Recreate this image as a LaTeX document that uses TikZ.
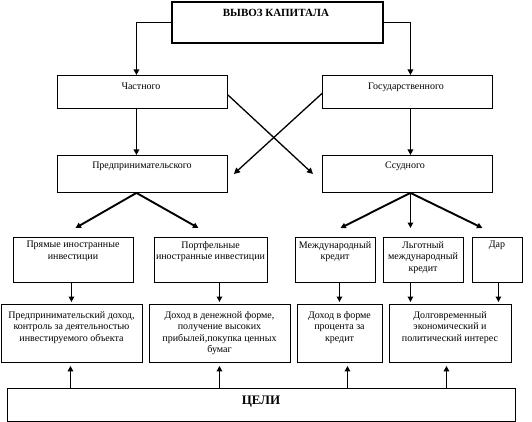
\documentclass[tikz,border=0pt]{standalone}
\usepackage{fontspec}
\setmainfont{Liberation Serif}
\usetikzlibrary{arrows.meta,calc}
\begin{document}
\begin{tikzpicture}[x=1pt,y=-1pt,
  box/.style={draw, line width=0.9pt, inner sep=0pt, anchor=north west},
  txt/.style={font=\fontsize{10}{11.6}\selectfont, align=center, inner sep=0pt},
  arr/.style={line width=1.9pt, -{Triangle[width=5.5pt,length=5.5pt]}},
  darr/.style={line width=1.3pt, -{Triangle[width=6pt,length=6pt]}},
  thinln/.style={line width=0.9pt}]
\useasboundingbox (0,0) rectangle (532,422);
% boxes
\node[box, line width=2pt, minimum width=211, minimum height=41] (top) at (171,1) {};
\node[box, minimum width=170, minimum height=33] (chast) at (57,75) {};
\node[box, minimum width=170, minimum height=33] (gos) at (322,75) {};
\node[box, minimum width=170, minimum height=37] (pred) at (57,155) {};
\node[box, minimum width=170, minimum height=37] (ssud) at (322,155) {};
\node[box, minimum width=120, minimum height=45] (r3a) at (13,237) {};
\node[box, minimum width=113, minimum height=45] (r3b) at (154,237) {};
\node[box, minimum width=80, minimum height=45] (r3c) at (295,237) {};
\node[box, minimum width=80, minimum height=45] (r3d) at (383,237) {};
\node[box, minimum width=50, minimum height=45] (r3e) at (472,237) {};
\node[box, minimum width=141, minimum height=58] (r4a) at (1,304) {};
\node[box, minimum width=141, minimum height=58] (r4b) at (149,304) {};
\node[box, minimum width=85, minimum height=58] (r4c) at (297,304) {};
\node[box, minimum width=122, minimum height=58] (r4d) at (389,304) {};
\node[box, minimum width=508, minimum height=33] (celi) at (7,388) {};
% texts
\node[txt, anchor=base, font=\fontsize{11}{13}\selectfont\bfseries] (ttop) at (276,17) {ВЫВОЗ КАПИТАЛА};
\node[txt, anchor=base] (tchast) at (141,90) {Частного};
\node[txt, anchor=base] (tgos) at (406,90) {Государственного};
\node[txt, anchor=base] (tpred) at (142,168) {Предпринимательского};
\node[txt, anchor=base] (tssud) at (405,168) {Ссудного};
\node[txt, anchor=north] (tr3a) at (73,241) {Прямые иностранные\\инвестиции};
\node[txt, anchor=north] (tr3b) at (210.5,241) {Портфельные\\иностранные инвестиции};
\node[txt, anchor=north] (tr3c) at (335,241) {Международный\\кредит};
\node[txt, anchor=north] (tr3d) at (423,241) {Льготный\\международный\\кредит};
\node[txt, anchor=north] (tr3e) at (497,241) {Дар};
\node[txt, anchor=north] (tr4a) at (71.5,311) {Предпринимательский доход,\\контроль за деятельностью\\инвестируемого объекта};
\node[txt, anchor=north] (tr4b) at (219.5,311) {Доход в денежной форме,\\получение высоких\\прибылей,покупка ценных\\бумаг};
\node[txt, anchor=north] (tr4c) at (339.5,311) {Доход в форме\\процента за\\кредит};
\node[txt, anchor=north] (tr4d) at (450,311) {Долговременный\\экономический и\\политический интерес};
\node[txt, anchor=base, font=\fontsize{13}{15}\selectfont\bfseries] (tceli) at (261,404) {ЦЕЛИ};
% connectors from top
\coordinate (c1) at ([xshift=-6pt]chast.north);
\coordinate (c2) at ([xshift=3pt]gos.north);
\draw[thinln] (top.west) -- (top.west -| c1);
\draw[arr] (top.west -| c1) -- (c1);
\draw[thinln] (top.east) -- (top.east -| c2);
\draw[arr] (top.east -| c2) -- (c2);
% down to second level
\draw[arr] ([xshift=-6pt]chast.south) -- ([xshift=-6pt]pred.north);
\draw[arr] ([xshift=3pt]gos.south) -- ([xshift=3pt]ssud.north);
% cross lines
\draw[darr] ([shift={(0,3)}]chast.east) -- ([shift={(-9,0)}]ssud.west);
\draw[darr] ([shift={(0,1.5)}]gos.west) -- ([shift={(6,0)}]pred.east);
% to third row
\draw[arr] ([xshift=-6pt]pred.south) -- ([shift={(2,-9)}]r3a.north);
\draw[arr] ([xshift=-6pt]pred.south) -- ([shift={(-12.5,-9)}]r3b.north);
\draw[arr] ([xshift=3pt]ssud.south) -- ([shift={(5,-9)}]r3c.north);
\draw[arr] ([xshift=3pt]ssud.south) -- ([shift={(-13,-9)}]r3d.north);
\draw[arr] ([xshift=3pt]ssud.south) -- ([shift={(-15,-9)}]r3e.north);
% third to fourth row
\draw[arr, shorten >=2pt] ([xshift=-2pt]r3a.south) -- ([xshift=-2pt]r3a.south |- r4a.north);
\draw[arr, shorten >=2pt] ([xshift=8.5pt]r3b.south) -- ([xshift=8.5pt]r3b.south |- r4b.north);
\draw[arr, shorten >=2pt] ([xshift=4pt]r3c.south) -- ([xshift=4pt]r3c.south |- r4c.north);
\draw[arr, shorten >=2pt] ([xshift=-13pt]r3d.south) -- ([xshift=-13pt]r3d.south |- r4d.north);
\draw[arr, shorten >=2pt] ([xshift=1pt]r3e.south) -- ([xshift=1pt]r3e.south |- r4d.north);
% from goals up
\draw[arr, shorten >=3pt] ([xshift=-1.5pt]r4a.south |- celi.north) -- ([xshift=-1.5pt]r4a.south);
\draw[arr, shorten >=3pt] ([xshift=-0.5pt]r4b.south |- celi.north) -- ([xshift=-0.5pt]r4b.south);
\draw[arr, shorten >=3pt] ([xshift=7.5pt]r4c.south |- celi.north) -- ([xshift=7.5pt]r4c.south);
\draw[arr, shorten >=3pt] ([xshift=-4pt]r4d.south |- celi.north) -- ([xshift=-4pt]r4d.south);
\end{tikzpicture}
\end{document}
